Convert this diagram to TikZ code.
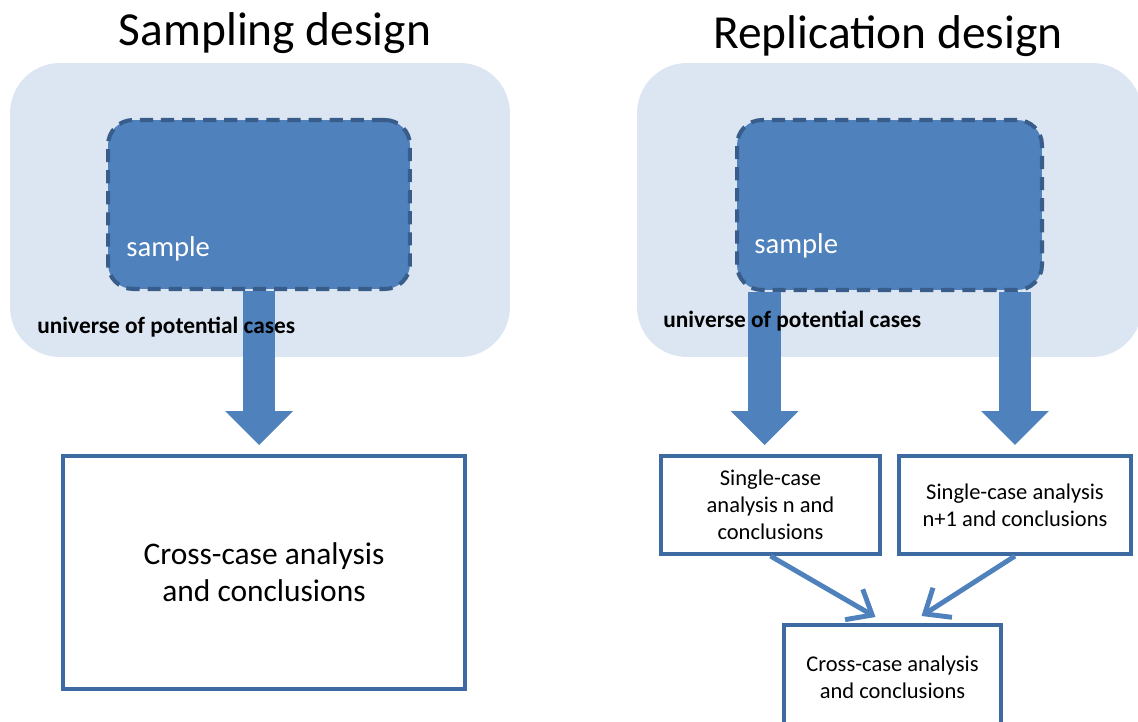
\documentclass[tikz,border=0pt]{standalone}
\usepackage{fontspec}
\setmainfont{Carlito}
\usetikzlibrary{arrows.meta,calc}

\definecolor{unifill}{HTML}{DCE6F2}
\definecolor{smpfill}{HTML}{4F81BD}
\definecolor{smpline}{HTML}{385D8A}
\definecolor{boxline}{HTML}{3D6AA0}

\tikzset{
  universe/.style={fill=unifill, rounded corners=1cm, inner sep=0pt},
  smpbox/.style={fill=smpfill, draw=smpline, line width=2.3pt,
    dash pattern=on 7.5pt off 4.5pt, rounded corners=0.5cm, inner sep=0pt},
  resultbox/.style={draw=boxline, fill=white, line width=2.3pt, align=center, inner sep=0pt},
  smalltext/.style={font=\fontsize{12.8}{15.3}\selectfont},
  blockarrow/.style={draw=smpfill, line width=18.7pt,
    -{Triangle[length=19.3pt, width=38.6pt, line width=0pt]}},
  thinarrow/.style={draw=smpfill, line width=2.8pt,
    -{Straight Barb[length=12pt, width=20pt]}},
  title/.style={font=\fontsize{27}{32}\selectfont},
  unilabel/.style={anchor=west, inner sep=0pt, font=\fontsize{13.3}{16}\selectfont\bfseries},
  smplabel/.style={anchor=west, inner sep=0pt, text=white, font=\fontsize{16.3}{19}\selectfont}
}

\begin{document}
\begin{tikzpicture}[x=0.02cm, y=-0.02cm]
\useasboundingbox (0,0) rectangle (1138,722);

% titles
\node[title] (titleL) at (275,33) {Sampling design};
\node[title] (titleR) at (888,36) {Replication design};

% sampling design
\node[universe, minimum width=10cm, minimum height=5.88cm] (uniL) at (260,210) {};
\node[smpbox, minimum width=6.04cm, minimum height=3.38cm] (smpL) at (259,204.5) {};
\node[resultbox, minimum width=8.04cm, minimum height=4.66cm,
  font=\fontsize{17.9}{21}\selectfont] (crossL) at (264,572.5)
  {Cross-case analysis\\and conclusions};
\draw[blockarrow] (smpL.south) -- ($(smpL.south |- crossL.north)+(0,-9)$);
\node[unilabel] (uniLtext) at (37,327) {universe of potential cases};
\node[smplabel] (smpLtext) at (126,249) {sample};

% replication design
\node[universe, minimum width=10.1cm, minimum height=5.88cm] (uniR) at (889.5,210) {};
\node[smpbox, minimum width=6.1cm, minimum height=3.4cm] (smpR) at (889.5,205) {};
\node[resultbox, smalltext, minimum width=4.38cm, minimum height=1.96cm] (caseN) at (770.5,505)
  {Single-case\\analysis n and\\conclusions};
\node[resultbox, smalltext, minimum width=4.64cm, minimum height=1.96cm] (caseM) at (1015,505)
  {Single-case analysis\\n+1 and conclusions};
\node[resultbox, smalltext, minimum width=4.34cm, minimum height=2.1cm] (crossR) at (892.5,677.5)
  {Cross-case analysis\\and conclusions};
\coordinate (outN) at ($(smpR.south west)+(29.5,0)$);
\coordinate (outM) at ($(smpR.south east)+(-29,0)$);
\draw[blockarrow] (outN) -- ($(outN |- caseN.north)+(0,-9)$);
\draw[blockarrow] (outM) -- ($(outM |- caseM.north)+(0,-9)$);
\draw[thinarrow] (caseN.south) -- ($(crossR.north)+(-17,-6)$);
\draw[thinarrow] (caseM.south) -- ($(crossR.north)+(29,-7)$);
\node[unilabel] (uniRtext) at (663,321) {universe of potential cases};
\node[smplabel] (smpRtext) at (754,246) {sample};
\end{tikzpicture}
\end{document}
